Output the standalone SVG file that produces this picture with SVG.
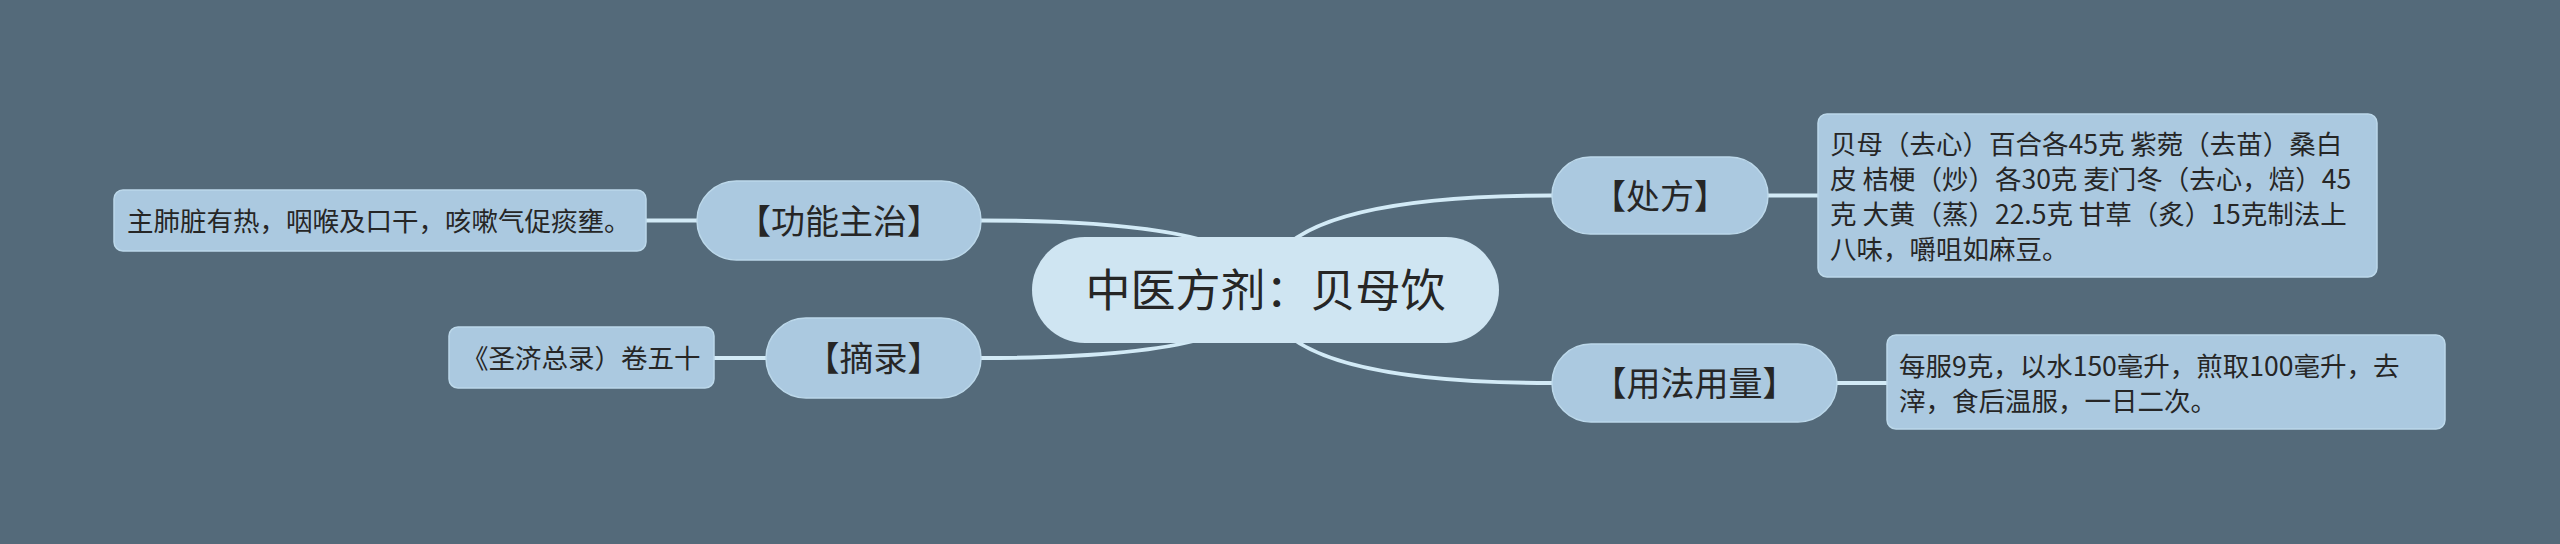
<svg xmlns="http://www.w3.org/2000/svg" width="2560" height="544" viewBox="0 0 2560 544">
<style>
.bg{fill:#546a7a}
.root{fill:#cfe5f2}
.branch{fill:#abc9e0;stroke:#bcd8ea;stroke-width:1.5}
.detail{fill:#abc9e0;stroke:#bcd8ea;stroke-width:1.5}
.conn{fill:none;stroke:#d2eaf6;stroke-width:4;stroke-linecap:round}
text{font-family:"Noto Sans CJK SC","Noto Sans",sans-serif;fill:#262626}
.t-root{font-size:45px;text-anchor:middle}
.t-branch{font-size:34px;text-anchor:middle}
.t-detail{font-size:26.5px}
</style>
<rect class="bg" x="0" y="0" width="2560" height="544"/>
<g id="connectors">
<path class="conn" d="M1265,290 Q1265,195.5 1552,195.5"/>
<path class="conn" d="M1265,290 Q1265,383 1552,383"/>
<path class="conn" d="M1265,290 Q1265,220.5 981,220.5"/>
<path class="conn" d="M1265,290 Q1265,358 981,358"/>
<path class="conn" d="M1768,195.5 L1818,195.5"/>
<path class="conn" d="M1837,383 L1887,383"/>
<path class="conn" d="M697,220.5 L646,220.5"/>
<path class="conn" d="M766,358 L714,358"/>
</g>
<g id="root">
<rect class="root" x="1032" y="237" width="467" height="106" rx="53"/>
<text class="t-root" x="1265.5" y="307">中医方剂：贝母饮</text>
</g>
<g id="node-chufang">
<rect class="branch" x="1552" y="157" width="216" height="77" rx="38.5"/>
<text class="t-branch" x="1660" y="208.5">【处方】</text>
</g>
<g id="node-yongfa">
<rect class="branch" x="1552" y="344" width="285" height="78" rx="39"/>
<text class="t-branch" x="1694.5" y="396">【用法用量】</text>
</g>
<g id="node-gongneng">
<rect class="branch" x="697" y="181" width="284" height="79" rx="39.5"/>
<text class="t-branch" x="839" y="233.5">【功能主治】</text>
</g>
<g id="node-zhailu">
<rect class="branch" x="766" y="318" width="215" height="80" rx="40"/>
<text class="t-branch" x="873.5" y="371">【摘录】</text>
</g>
<g id="detail-chufang">
<rect class="detail" x="1818" y="114" width="559" height="163" rx="9"/>
<text class="t-detail" x="1830" y="154.3">贝母（去心）百合各45克 紫菀（去苗）桑白</text>
<text class="t-detail" x="1830" y="189.3">皮 桔梗（炒）各30克 麦门冬（去心，焙）45</text>
<text class="t-detail" x="1830" y="224.3">克 大黄（蒸）22.5克 甘草（炙）15克制法上</text>
<text class="t-detail" x="1830" y="259.3">八味，嚼咀如麻豆。</text>
</g>
<g id="detail-yongfa">
<rect class="detail" x="1887" y="335" width="558" height="94" rx="9"/>
<text class="t-detail" x="1899" y="376">每服9克，以水150毫升，煎取100毫升，去</text>
<text class="t-detail" x="1899" y="411">滓，食后温服，一日二次。</text>
</g>
<g id="detail-gongneng">
<rect class="detail" x="114" y="190" width="532" height="61" rx="9"/>
<text class="t-detail" x="127" y="230.5">主肺脏有热，咽喉及口干，咳嗽气促痰壅。</text>
</g>
<g id="detail-zhailu">
<rect class="detail" x="449" y="327" width="265" height="61" rx="9"/>
<text class="t-detail" x="462" y="367.5">《圣济总录）卷五十</text>
</g>
</svg>
